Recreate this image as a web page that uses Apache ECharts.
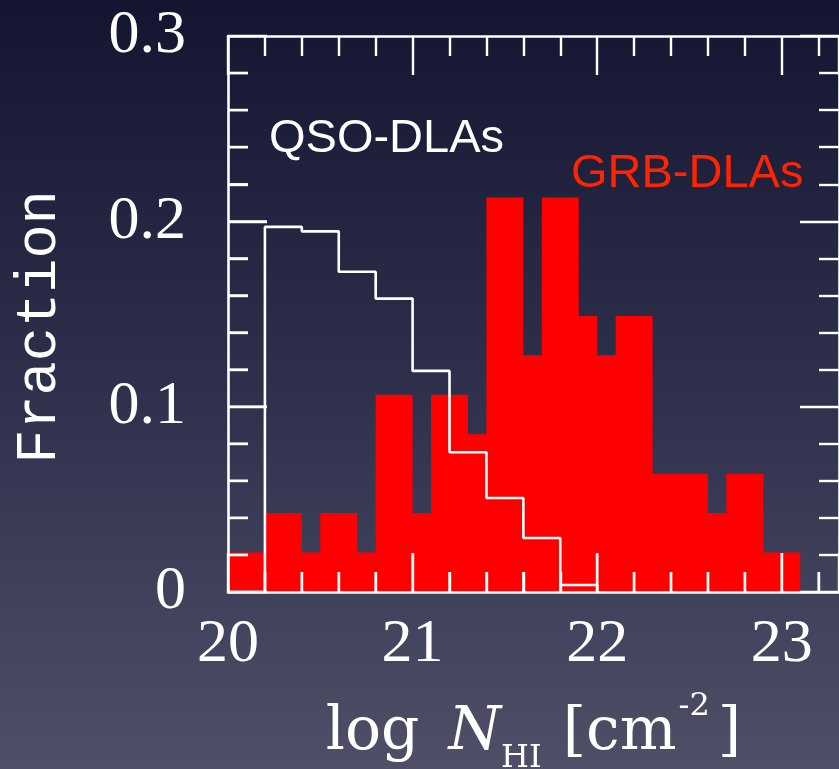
<!DOCTYPE html>
<html>
<head>
<meta charset="utf-8">
<script src="https://cdn.jsdelivr.net/npm/echarts@6/dist/echarts.min.js"></script>
<style>
html,body{margin:0;padding:0;background:#2a2c48;overflow:hidden;}
#chart{width:839px;height:769px;}
</style>
</head>
<body>
<div id="chart"></div>
<script>
// QSO-DLA histogram (white outline): left bin edges and fractions
const qsoBinEdges = [20.0, 20.2, 20.4, 20.6, 20.8, 21.0, 21.2, 21.4, 21.6, 21.8, 22.0];
const qsoFraction = [0, 0.197, 0.1946, 0.1728, 0.1583, 0.1193, 0.0754, 0.0507, 0.0291, 0.0038, 0];
// GRB-DLA histogram (red filled): left edges of each step and fractions
const grbBinEdges = [20.0, 20.2, 20.4, 20.5, 20.7, 20.8, 21.0, 21.1, 21.3, 21.4, 21.6, 21.7, 21.9, 22.0, 22.1, 22.3, 22.6, 22.7, 22.9, 23.1];
const grbFraction = [0.0213, 0.0426, 0.0213, 0.0426, 0.0213, 0.1064, 0.0426, 0.1064, 0.0851, 0.2128, 0.1277, 0.2128, 0.1489, 0.1277, 0.1489, 0.0638, 0.0426, 0.0638, 0.0213, 0];
// tick labels
const xTickLabels = [20, 21, 22, 23];
const yTickLabels = [0, 0.1, 0.2, 0.3];
// tick mark positions (bottom / left frame ticks drawn over the bars)
const xTickPositions = [20.2, 20.4, 20.6, 20.8, 21.0, 21.2, 21.4, 21.6, 21.8, 22.0, 22.2, 22.4, 22.6, 22.8, 23.0, 23.2];
const yTickPositions = [0.02, 0.04, 0.06, 0.08, 0.1, 0.12, 0.14, 0.16, 0.18, 0.2, 0.22, 0.24, 0.26, 0.28];

const chart = echarts.init(document.getElementById('chart'), null, {renderer: 'canvas'});
const tickColor = '#ffffff';
function xAxisCfg(pos, showLabel) {
  return {
    type: 'value', position: pos, min: 20, max: 23.31, interval: 1, z: 10,
    axisLine: {show: true, onZero: false, lineStyle: {color: tickColor, width: 2.6}},
    axisTick: {show: true, inside: true, length: 39, lineStyle: {color: tickColor, width: 2.4}},
    minorTick: {show: true, splitNumber: 5, length: 20, lineStyle: {color: tickColor, width: 2.4}},
    splitLine: {show: false},
    axisLabel: {
      show: showLabel, showMaxLabel: false, margin: 22, color: '#ffffff',
      fontFamily: 'Liberation Serif', fontSize: 62,
      formatter: v => (xTickLabels.indexOf(Math.round(v * 1000) / 1000) >= 0 ? String(Math.round(v)) : '')
    }
  };
}
function yAxisCfg(pos, showLabel) {
  return {
    type: 'value', position: pos, min: 0, max: 0.3, interval: 0.1, z: 10,
    axisLine: {show: true, onZero: false, lineStyle: {color: tickColor, width: 2.6}},
    axisTick: {show: true, inside: true, length: 39, lineStyle: {color: tickColor, width: 2.4}},
    minorTick: {show: true, splitNumber: 5, length: 20, lineStyle: {color: tickColor, width: 2.4}},
    splitLine: {show: false},
    axisLabel: {
      show: showLabel, margin: 42, color: '#ffffff',
      fontFamily: 'Liberation Serif', fontSize: 62,
      formatter: v => { const r = Math.round(v * 1000) / 1000; return yTickLabels.indexOf(r) >= 0 ? String(r) : ''; }
    }
  };
}
const xBottom = xAxisCfg('bottom', true);
xBottom.name = '{a|log }{i|N}{sub|HI}{a| [cm}{sup|-2}{a|]}';
xBottom.nameLocation = 'middle';
xBottom.nameGap = 99;
xBottom.nameTextStyle = {
  color: '#ffffff',
  rich: {
    a: {fontFamily: 'DejaVu Serif', fontSize: 60, color: '#fff', lineHeight: 84},
    i: {fontFamily: 'DejaVu Serif', fontStyle: 'italic', fontSize: 60, color: '#fff', lineHeight: 84, padding: [0, 0, 0, 10]},
    sub: {fontFamily: 'DejaVu Serif', fontSize: 32, color: '#fff', lineHeight: 42, verticalAlign: 'bottom', padding: [0, 2, 0, 0]},
    sup: {fontFamily: 'DejaVu Serif', fontSize: 32, color: '#fff', lineHeight: 44, verticalAlign: 'top', padding: [0, 8, 0, 2]}
  }
};

const yLeft = yAxisCfg('left', true);
yLeft.name = 'Fraction'; yLeft.nameLocation = 'middle'; yLeft.nameRotate = 90; yLeft.nameGap = 160;
yLeft.nameTextStyle = {color: '#ffffff', fontFamily: 'Liberation Mono', fontSize: 57, padding: [0, 26, 0, 0]};

function isMajor(v, labels) {
  return labels.some(l => Math.abs(l - v) < 1e-6);
}
// frame ticks: [value, kind(0 = bottom x tick, 1 = left y tick), length]
const frameTicks = xTickPositions.map(v => [v, 0, isMajor(v, xTickLabels) ? 39 : 20])
  .concat(yTickPositions.map(v => [v, 1, isMajor(v, yTickLabels) ? 39 : 20]));

chart.setOption({
  animation: false,
  backgroundColor: {type: 'linear', x: 0, y: 0, x2: 0, y2: 1,
    colorStops: [{offset: 0, color: '#141631'}, {offset: 0.45, color: '#2b2d49'}, {offset: 1, color: '#4f4f67'}]},
  grid: {left: 228, right: 0, top: 36, bottom: 177, containLabel: false, outerBoundsMode: 'none'},
  xAxis: [xBottom, xAxisCfg('top', false)],
  yAxis: [yLeft, yAxisCfg('right', false)],
  series: [
    {type: 'line', step: 'end', xAxisIndex: 0, yAxisIndex: 0,
     data: grbBinEdges.map((x, i) => [x, grbFraction[i]]), symbol: 'none', z: 1,
     lineStyle: {width: 0, opacity: 0}, areaStyle: {color: '#ff0000', opacity: 1}},
    {type: 'line', step: 'end', xAxisIndex: 0, yAxisIndex: 0,
     data: qsoBinEdges.map((x, i) => [x, qsoFraction[i]]), symbol: 'none', z: 2,
     lineStyle: {color: '#ffffff', width: 2.6}},
    {type: 'custom', coordinateSystem: 'cartesian2d', xAxisIndex: 0, yAxisIndex: 0, z: 5,
     silent: true, clip: false,
     data: frameTicks,
     renderItem: function (params, api) {
       const v = api.value(0), kind = api.value(1), len = api.value(2);
       let shape;
       if (kind === 0) {
         const p = api.coord([v, 0]);
         shape = {x1: p[0], y1: p[1], x2: p[0], y2: p[1] - len};
       } else {
         const p = api.coord([20, v]);
         shape = {x1: p[0], y1: p[1], x2: p[0] + len, y2: p[1]};
       }
       return {type: 'line', shape: shape, style: {stroke: '#ffffff', lineWidth: 2.4}};
     }}
  ],
  graphic: [
    {type: 'text', x: 269, y: 139, z: 20, style: {text: 'QSO-DLAs', fill: '#ffffff', font: '47px "Liberation Sans"', align: 'left', verticalAlign: 'middle'}},
    {type: 'text', x: 571, y: 174, z: 20, style: {text: 'GRB-DLAs', fill: '#ff2400', font: '47px "Liberation Sans"', align: 'left', verticalAlign: 'middle'}}
  ]
});
</script>
</body>
</html>
